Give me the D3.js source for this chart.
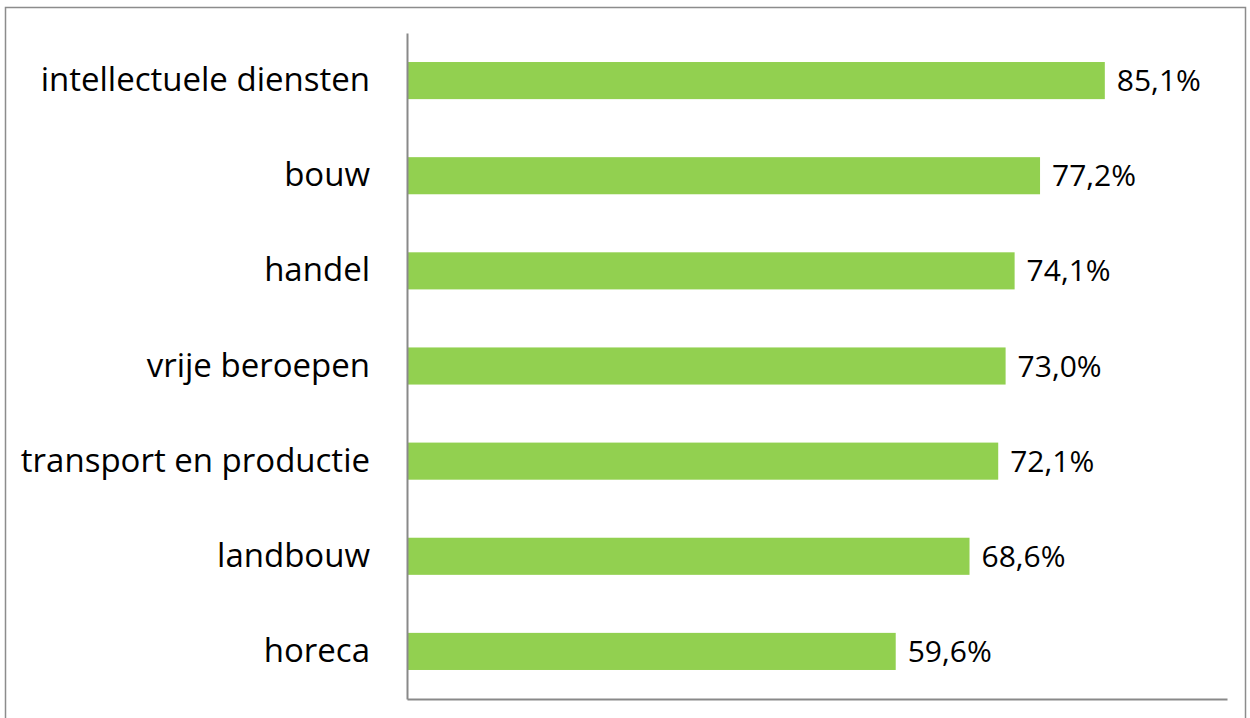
<!DOCTYPE html>
<html><head><meta charset="utf-8">
<script src="https://cdn.jsdelivr.net/npm/d3@7"></script>
<style>html,body{margin:0;padding:0;background:#fff;}svg{display:block;}</style>
</head><body>
<svg id="chart" width="1250" height="718"></svg>
<script>
const categories = ["intellectuele diensten","bouw","handel","vrije beroepen","transport en productie","landbouw","horeca"];
const values = [85.1, 77.2, 74.1, 73.0, 72.1, 68.6, 59.6];
const valueLabels = ["85,1%","77,2%","74,1%","73,0%","72,1%","68,6%","59,6%"];

const svg = d3.select("#chart");
const font = "'Open Sans', sans-serif";
// outer frame
svg.append("rect").attr("x",5.5).attr("y",7.5).attr("width",1240).attr("height",720)
  .attr("fill","none").attr("stroke","#8c8c8c").attr("stroke-width",1.5);

const x = d3.scaleLinear().domain([0,100]).range([407,1227]);
const y = d3.scaleBand().domain(categories).range([33,699]).paddingInner(0.61).paddingOuter(0.305);

svg.selectAll("rect.bar").data(categories).enter().append("rect")
  .attr("class","bar")
  .attr("x", x(0))
  .attr("y", d=>y(d))
  .attr("width", (d,i)=>x(values[i])-x(0))
  .attr("height", y.bandwidth())
  .attr("fill","#92D050");

// axes lines
const yAxis = d3.axisLeft(y).tickSize(0).tickPadding(37);
const gy = svg.append("g").attr("transform",`translate(${x(0)},0)`).call(yAxis);
gy.select(".domain").attr("stroke","#898989").attr("stroke-width",2);
gy.selectAll("text").attr("font-family",font).attr("font-size",33).attr("fill","#000");

const xAxis = d3.axisBottom(x).tickValues([]).tickSizeOuter(0);
const gx = svg.append("g").attr("transform",`translate(0,699)`).call(xAxis);
gx.select(".domain").attr("stroke","#898989").attr("stroke-width",2);

svg.selectAll("text.val").data(categories).enter().append("text")
  .attr("class","val")
  .attr("x",(d,i)=>x(values[i])+12)
  .attr("y",d=>y(d)+y.bandwidth()/2)
  .attr("dy","0.35em")
  .attr("font-family",font).attr("font-size",30).attr("fill","#000")
  .text((d,i)=>valueLabels[i]);
</script>
</body></html>
